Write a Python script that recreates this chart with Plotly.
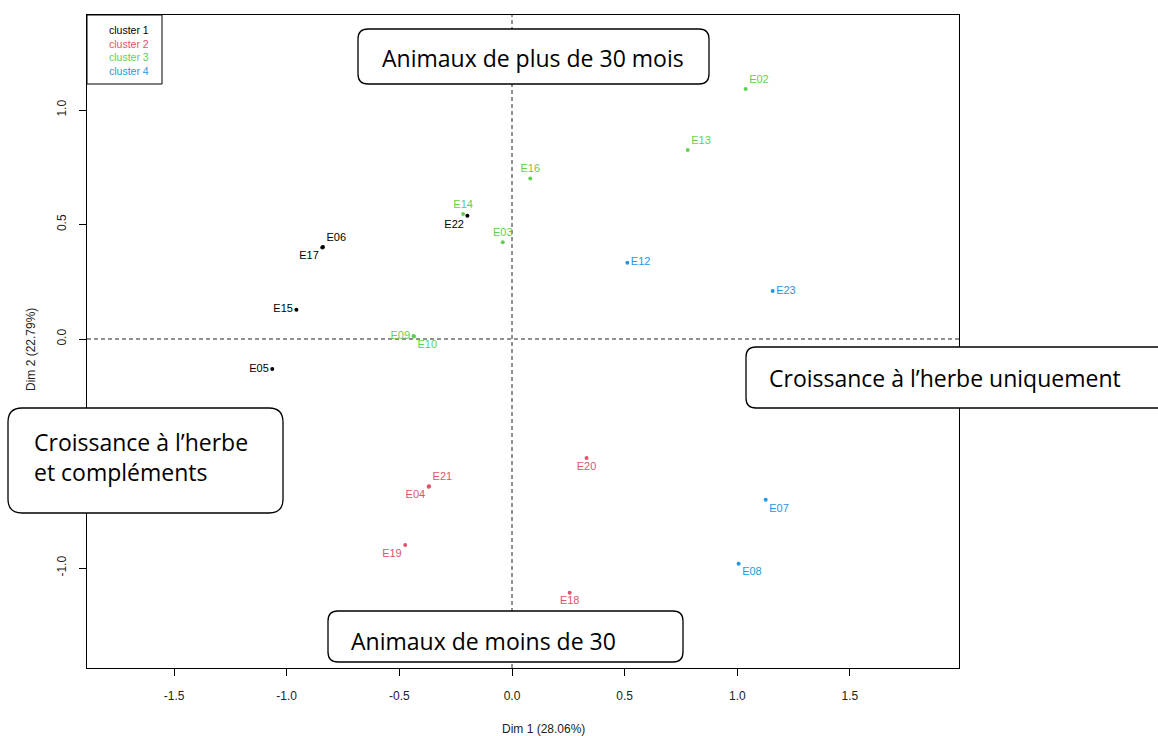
import plotly.graph_objects as go

# Individual coordinates on the first two dimensions, grouped by cluster
cluster_names = ["cluster 1", "cluster 2", "cluster 3", "cluster 4"]
cluster_colors = ["black", "#DF536B", "#61D04F", "#2297E6"]

c1_labels = ["E05", "E06", "E17", "E15", "E22"]
c1_dim1 = [-1.064, -0.839, -0.842, -0.957, -0.198]
c1_dim2 = [-0.131, 0.402, 0.400, 0.128, 0.538]

c2_labels = ["E20", "E21", "E04", "E19", "E18"]
c2_dim1 = [0.331, -0.368, -0.370, -0.474, 0.256]
c2_dim2 = [-0.520, -0.643, -0.645, -0.900, -1.108]

c3_labels = ["E02", "E13", "E16", "E14", "E03", "E09", "E10"]
c3_dim1 = [1.037, 0.780, 0.081, -0.217, -0.041, -0.437, -0.435]
c3_dim2 = [1.092, 0.825, 0.701, 0.546, 0.422, 0.013, 0.011]

c4_labels = ["E12", "E23", "E07", "E08"]
c4_dim1 = [0.512, 1.157, 1.126, 1.006]
c4_dim2 = [0.333, 0.210, -0.702, -0.981]

# Label placement around each point
c1_pos = ["middle left", "top right", "bottom left", "middle left", "bottom left"]
c2_pos = ["bottom center", "top right", "bottom left", "bottom left", "bottom center"]
c3_pos = ["top right", "top right", "top center", "top center", "top center",
          "middle left", "bottom right"]
c4_pos = ["middle right", "middle right", "bottom right", "bottom right"]

xlabel = "Dim 1 (28.06%)"
ylabel = "Dim 2 (22.79%)"
tick_vals = [-1.5, -1.0, -0.5, 0.0, 0.5, 1.0, 1.5]

W, H = 1158, 736
L, R, T, B = 87, 959, 15, 668  # plot area in pixels

fig = go.Figure()

groups = [
    (c1_labels, c1_dim1, c1_dim2, c1_pos),
    (c2_labels, c2_dim1, c2_dim2, c2_pos),
    (c3_labels, c3_dim1, c3_dim2, c3_pos),
    (c4_labels, c4_dim1, c4_dim2, c4_pos),
]
for (labels, xs, ys, pos), name, col in zip(groups, cluster_names, cluster_colors):
    fig.add_trace(go.Scatter(
        x=xs, y=ys, mode="markers+text", name=name,
        text=labels, textposition=pos,
        marker=dict(color=col, size=4),
        textfont=dict(family="Liberation Sans, Arial", size=11, color=col),
        showlegend=False, cliponaxis=False,
    ))


def px_x(p):
    return (p - L) / (R - L)


def px_y(p):
    return (B - p) / (B - T)


def rounded_box(x0, y0, x1, y1, r=10):
    # Rounded rectangle given in pixel coordinates, returned as a paper-space path
    X0, X1 = px_x(x0), px_x(x1)
    Y0, Y1 = px_y(y0), px_y(y1)
    rx = r / (R - L)
    ry = r / (B - T)
    path = (
        f"M {X0 + rx},{Y0} L {X1 - rx},{Y0} Q {X1},{Y0} {X1},{Y0 - ry} "
        f"L {X1},{Y1 + ry} Q {X1},{Y1} {X1 - rx},{Y1} "
        f"L {X0 + rx},{Y1} Q {X0},{Y1} {X0},{Y1 + ry} "
        f"L {X0},{Y0 - ry} Q {X0},{Y0} {X0 + rx},{Y0} Z"
    )
    return dict(type="path", path=path, xref="paper", yref="paper",
                fillcolor="white", line=dict(color="black", width=1.3),
                layer="above")


dash_style = dict(color="#222222", width=1, dash="4px,3px")
shapes = [
    # zero reference lines
    dict(type="line", xref="x", yref="paper", x0=0, x1=0, y0=0, y1=1,
         line=dash_style, layer="below"),
    dict(type="line", xref="paper", yref="y", x0=0, x1=1, y0=0, y1=0,
         line=dash_style, layer="below"),
    # legend frame
    dict(type="rect", xref="paper", yref="paper",
         x0=px_x(87), x1=px_x(162), y0=px_y(84), y1=px_y(15),
         line=dict(color="black", width=1), fillcolor="white", layer="above"),
    rounded_box(358, 29, 709, 84),
    rounded_box(746, 347, 1175, 408),
    rounded_box(8, 408, 283, 513, r=14),
    rounded_box(328, 611, 683, 662),
]

box_font = dict(family="Open Sans, Noto Sans", size=23, color="black")
annotations = [
    dict(text="Animaux de plus de 30 mois", x=px_x(380), y=px_y(58),
         xanchor="left", yanchor="middle", font=box_font),
    dict(text="Croissance à l’herbe uniquement", x=px_x(767), y=px_y(378),
         xanchor="left", yanchor="middle", font=box_font),
    dict(text="Croissance à l’herbe<br>et compléments", x=px_x(32), y=px_y(457),
         xanchor="left", yanchor="middle", align="left", font=box_font),
    dict(text="Animaux de moins de 30", x=px_x(349), y=px_y(641),
         xanchor="left", yanchor="middle", font=box_font),
    dict(text=xlabel, x=px_x(543), y=px_y(729), xanchor="center", yanchor="middle",
         font=dict(family="Liberation Sans, Arial", size=12, color="#222")),
    dict(text=ylabel, x=px_x(31), y=px_y(350), xanchor="center", yanchor="middle",
         textangle=-90,
         font=dict(family="Liberation Sans, Arial", size=12, color="#222")),
]
for i, (name, col) in enumerate(zip(cluster_names, cluster_colors)):
    annotations.append(dict(
        text=name, x=px_x(107), y=px_y(30 + 13.5 * i), xanchor="left",
        yanchor="middle",
        font=dict(family="Liberation Sans, Arial", size=10.5, color=col)))
for a in annotations:
    a.update(xref="paper", yref="paper", showarrow=False)

x_range = [(L - 512) / 225.3, (R - 512) / 225.3]
y_range = [(339 - B) / 229.0, (339 - T) / 229.0]

axis_common = dict(
    showgrid=False, zeroline=False, showline=True, mirror=True,
    linecolor="black", linewidth=1, ticks="outside", ticklen=7,
    tickcolor="black", tickvals=tick_vals,
    ticktext=[f"{v:.1f}" for v in tick_vals],
    tickfont=dict(family="Liberation Sans, Arial", size=12, color="#222"),
)

fig.update_layout(
    width=W, height=H,
    margin=dict(l=L, r=W - R, t=T, b=H - B),
    paper_bgcolor="white", plot_bgcolor="white",
    xaxis=dict(range=x_range, ticklabelstandoff=10, **axis_common),
    yaxis=dict(range=y_range, tickangle=-90, ticklabelstandoff=8, **axis_common),
    shapes=shapes, annotations=annotations, showlegend=False,
)

fig.write_html("out.html")
